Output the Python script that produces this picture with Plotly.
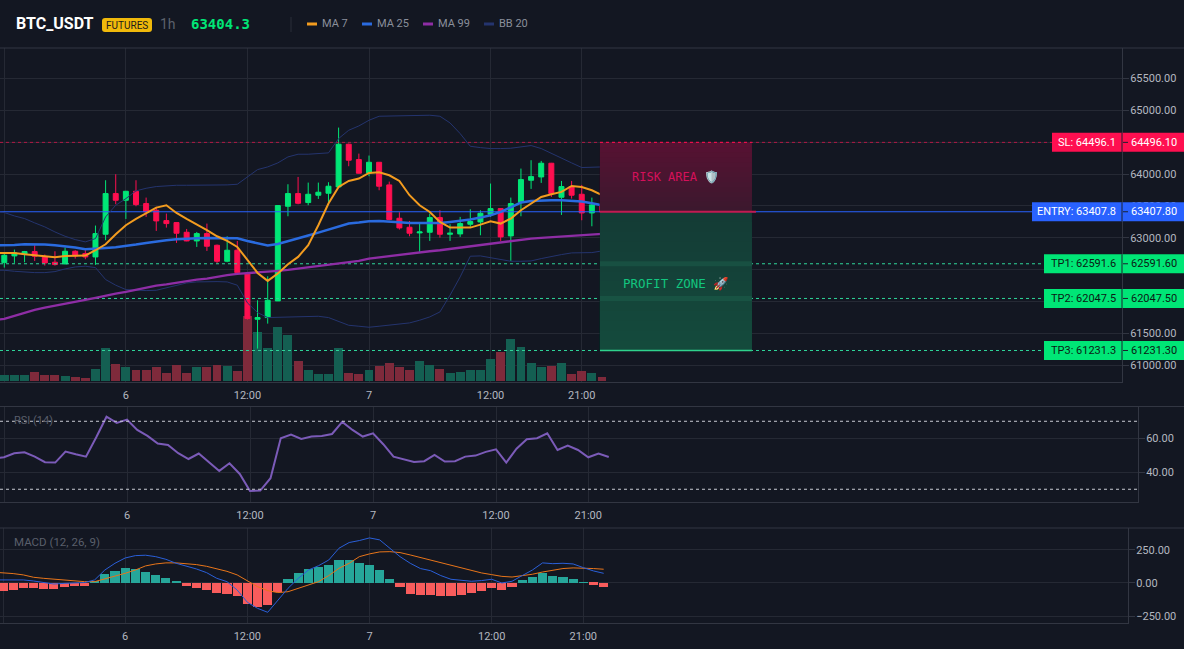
import plotly.graph_objects as go

W, H = 1184, 649

# --- hourly BTC_USDT candles ---------------------------------------------
opens = [62610,62715,62741,62783,62699,62616,62589,62788,62752,62699,63055,63693,63588,63729,63536,63431,63269,63238,63086,62950,
         63065,62882,62631,62804,62438,61721,61748,62009,63494,63693,63552,63667,63698,63797,64467,64226,64017,64184,63829,63306,
         63165,63076,63086,63316,63055,63060,63212,63248,63369,63457,63029,63552,63902,63954,64169,63635,63803,63682,63389,63515]
highs = [62752,62814,62793,62882,62736,62788,62846,62804,62804,63191,63902,63996,63735,63902,63630,63484,63379,63243,63138,63091,
         63222,62893,63023,62950,62453,62019,62396,63510,63839,63954,63865,63865,63871,64728,64477,64320,64289,64184,63881,63400,
         63264,63222,63379,63431,63212,63327,63447,63431,63850,63463,63630,64085,64216,64205,64174,63891,63891,63829,63630,63588]
lows = [62532,62605,62616,62636,62563,62563,62584,62673,62663,62574,62961,63525,63295,63494,63327,63107,63159,62919,62945,62856,
        62793,62595,62616,62453,61716,61261,61653,62009,63337,63525,63510,63609,63562,63787,64122,64006,63965,63745,63274,63128,
        63023,62778,62950,63002,62950,63013,63170,63039,63327,62950,62636,63337,63766,63860,63640,63358,63614,63274,63180,63327]
closes = [62725,62762,62783,62710,62605,62579,62788,62715,62699,63065,63693,63588,63729,63520,63405,63264,63222,63071,62950,63065,
          62867,62631,62804,62453,61732,61748,62019,63505,63693,63541,63682,63714,63808,64467,64216,64012,64184,63808,63285,63154,
          63071,63091,63316,63055,63071,63222,63254,63384,63457,63013,63536,63912,63959,64169,63693,63803,63667,63389,63515,63404.3]
volumes = [180,180,180,280,180,180,160,130,100,350,1000,510,430,330,330,410,230,480,250,430,
           430,480,450,300,1960,1480,1000,1620,1380,610,330,210,210,1000,250,210,330,450,530,430,
           330,610,480,360,240,280,330,330,660,880,1260,1010,550,410,450,530,210,300,230,130]

# Overlay lines carry one extra leading point so they run off the left edge.
ma7 = [62762,62762,62762,62741,62725,62710,62694,62715,62720,62720,62804,62898,63055,63196,63295,63379,63473,63510,63389,63295,63212,
       63118,63023,62950,62856,62657,62448,62323,62438,62584,62699,62882,63196,63536,63797,63891,63928,64017,64027,63980,63891,
       63667,63510,63405,63248,63159,63154,63159,63206,63259,63222,63301,63431,63536,63640,63682,63719,63813,63797,63745,63667]
ma25 = [62882,62882,62887,62898,62898,62893,62882,62867,62846,62820,62825,62840,62851,62867,62893,62919,62945,62961,62976,62987,62992,
        62997,62997,62997,62992,62950,62908,62877,62903,62945,62982,63034,63081,63128,63186,63222,63238,63259,63264,63259,63243,
        63233,63233,63233,63233,63248,63264,63285,63316,63353,63405,63473,63552,63578,63588,63588,63588,63578,63567,63541,63510]
ma99 = [61706,61727,61774,61826,61868,61904,61936,61972,61999,62025,62056,62093,62124,62150,62182,62223,62250,62270,62297,62318,62344,
        62359,62391,62412,62433,62443,62453,62464,62480,62495,62516,62532,62553,62574,62595,62616,62636,62673,62694,62715,62731,
        62752,62767,62788,62804,62825,62840,62861,62882,62903,62924,62945,62971,62987,62997,63008,63023,63034,63039,63050,63060]
bb_upper = [63405,63395,63342,63301,63233,63170,63091,63023,62971,62935,62987,63327,63510,63614,63735,63776,63803,63818,63823,63823,63823,
            63823,63823,63829,63839,63954,64069,64111,64174,64268,64310,64310,64315,64331,64556,64686,64754,64843,64906,64911,64916,
            64916,64922,64922,64906,64801,64634,64435,64414,64399,64399,64404,64425,64446,64399,64320,64242,64174,64101,64101,64111]
bb_lower = [62490,62490,62474,62459,62453,62453,62469,62511,62542,62553,62532,62344,62255,62187,62176,62171,62176,62218,62255,62291,62307,
            62312,62312,62307,62255,61978,61826,61748,61753,61758,61763,61768,61768,61748,61690,61627,61612,61596,61612,61632,61643,
            61664,61706,61758,61836,62098,62386,62710,62715,62689,62657,62631,62631,62636,62673,62710,62736,62762,62767,62767,62793]

# --- oscillators ----------------------------------------------------------
rsi = [48.0,48.8,51.2,51.8,49.2,45.9,45.7,52.2,50.6,49.2,60.6,72.7,69.0,71.0,64.9,61.4,56.9,56.1,51.2,47.8,51.0,
       45.9,40.8,45.3,39.0,29.0,29.2,36.5,60.0,62.2,59.6,61.0,61.4,62.5,69.6,64.9,61.0,62.9,56.5,49.2,47.6,
       46.1,46.5,50.2,46.3,46.5,49.2,49.8,52.0,53.5,45.7,53.9,59.4,60.0,62.9,53.1,55.7,53.1,48.8,51.0,49.0]
macd_hist = [-58,-53,-35,-35,-45,-45,-28,-20,-20,13,68,91,114,104,83,61,38,10,-20,-35,
             -53,-78,-83,-96,-159,-179,-167,-66,30,73,106,124,136,174,174,154,136,98,30,-28,
             -83,-88,-91,-98,-98,-91,-76,-61,-40,-53,-30,23,48,78,56,45,30,3,-15,-30]
macd_line = [23,23,23,23,15,3,-8,-3,0,3,23,98,149,189,207,210,199,179,149,129,106,
             78,35,10,-53,-146,-192,-222,-129,-40,35,98,131,174,263,306,321,341,326,263,199,
             149,109,93,56,28,18,13,18,28,0,13,56,98,152,146,149,144,116,91,73]
macd_signal = [82,78,71,61,43,35,28,20,15,10,10,30,53,73,98,129,144,152,152,146,139,
               126,106,88,61,15,-28,-58,-73,-66,-40,-15,10,56,111,149,199,220,235,237,230,
               212,192,174,154,131,111,91,76,63,50,45,56,66,83,98,109,114,114,109,104]

# --- axis labels and trade levels ------------------------------------------
tick_positions = [0, 12, 24, 36, 48, 57]
tick_labels = ["12:00", "6", "12:00", "7", "12:00", "21:00"]
price_ticks = [61000, 61500, 62000, 62500, 63000, 63500, 64000, 64500, 65000, 65500]
# 62000, 62500 and 64500 fall under the level tags, so they keep a gridline but no text.
price_tick_labels = ["61000.00", "61500.00", "", "", "63000.00", "63500.00", "64000.00", "", "65000.00", "65500.00"]
rsi_bands = [70, 30]
sl_level = 64496.1
entry_level = 63407.8
tp_levels = [62591.6, 62047.5, 61231.3]

BG = "#131722"
GRID = "#252934"
EDGE = "#323642"
GREEN = "#00e676"
RED = "#ff0f50"
BLUE = "#2962ff"
TP_LINE = "#2fd69a"
BAND = "#24346e"
AXIS_FONT = dict(family="Roboto, sans-serif", size=11, color="#b4b7c0")

X_LEFT = -0.424
X_RIGHT = 110.33


def px_x(x):
    return x / W


def px_y(y):
    return 1 - y / H


def main_index(px):
    """Bar index under a horizontal pixel of the price pane."""
    return X_LEFT + px / 1122 * (X_RIGHT - X_LEFT)


candle_x = list(range(len(closes)))
line_x = list(range(-1, len(closes)))
vol_colors = ["#145f52" if c >= o else "#7e2a3b" for o, c in zip(opens, closes)]
hist_colors = ["#26a69a" if v >= 0 else "#f85c5c" for v in macd_hist]

traces = [
    go.Bar(x=candle_x, y=volumes, width=0.88, marker=dict(color=vol_colors, line_width=0),
           xaxis="x", yaxis="y"),
]

# Trade level lines sit behind the candles.
for level, end_px, color, dash in [
    (sl_level, 1052, "rgba(255,15,80,0.65)", "dot"),
    (entry_level, 1032, BLUE, "solid"),
    (tp_levels[0], 1044, TP_LINE, "dot"),
    (tp_levels[1], 1044, TP_LINE, "dot"),
    (tp_levels[2], 1044, TP_LINE, "dot"),
]:
    traces.append(go.Scatter(x=[X_LEFT, main_index(end_px)], y=[level, level], mode="lines",
                             line=dict(color=color, width=1, dash=dash), xaxis="x", yaxis="y2"))

for values in (bb_upper, bb_lower):
    traces.append(go.Scatter(x=line_x, y=values, mode="lines", line=dict(color=BAND, width=1),
                             xaxis="x", yaxis="y2"))
traces.append(go.Scatter(x=line_x, y=ma99, mode="lines", line=dict(color="#8e2da5", width=2.3),
                         xaxis="x", yaxis="y2"))
traces.append(go.Candlestick(
    x=candle_x, open=opens, high=highs, low=lows, close=closes, whiskerwidth=0,
    increasing=dict(line=dict(color=GREEN, width=1), fillcolor=GREEN),
    decreasing=dict(line=dict(color=RED, width=1), fillcolor=RED),
    xaxis="x", yaxis="y2",
))
for values, color, width in [(ma25, "#2a6bdf", 2.5), (ma7, "#f39c1f", 2)]:
    traces.append(go.Scatter(x=line_x, y=values, mode="lines", line=dict(color=color, width=width),
                             xaxis="x", yaxis="y2"))

traces.append(go.Scatter(x=line_x, y=rsi, mode="lines", line=dict(color="#7b5bb8", width=2),
                         xaxis="x2", yaxis="y3"))

traces.append(go.Bar(x=candle_x, y=macd_hist, width=0.9, marker=dict(color=hist_colors, line_width=0),
                     xaxis="x3", yaxis="y4"))
traces.append(go.Scatter(x=line_x, y=macd_signal, mode="lines", line=dict(color="#e8751a", width=1),
                         xaxis="x3", yaxis="y4"))
traces.append(go.Scatter(x=line_x, y=macd_line, mode="lines", line=dict(color="#2a5fd8", width=1),
                         xaxis="x3", yaxis="y4"))


def x_axis(right_px, x_range, anchor, standoff):
    return dict(
        domain=[0, px_x(right_px)], range=x_range, anchor=anchor,
        tickmode="array", tickvals=tick_positions, ticktext=tick_labels,
        showgrid=True, gridcolor=GRID, gridwidth=1, zeroline=False,
        showline=True, linecolor=EDGE, linewidth=1, ticks="", tickfont=AXIS_FONT,
        ticklabelstandoff=standoff, rangeslider=dict(visible=False),
    )


def y_axis(top, bottom, y_range, anchor, tickvals, overlay=None, ticktext=None):
    axis = dict(
        domain=[px_y(bottom), px_y(top)], range=y_range, anchor=anchor, side="right",
        tickmode="array", tickvals=tickvals, tickformat=".2f",
        showgrid=True, gridcolor=GRID, gridwidth=1, zeroline=False,
        showline=True, linecolor=EDGE, linewidth=1, ticks="outside", ticklen=6, tickcolor=EDGE,
        tickfont=AXIS_FONT, ticklabelstandoff=-1,
    )
    if overlay:
        axis["overlaying"] = overlay
    if ticktext:
        axis["ticktext"] = ticktext
    return axis


layout = dict(
    width=W, height=H, autosize=False, margin=dict(l=0, r=0, t=0, b=0, pad=0),
    paper_bgcolor=BG, plot_bgcolor=BG, showlegend=False, bargap=0, barmode="overlay", boxgap=0.3,
    hovermode=False,
    xaxis=x_axis(1122, [X_LEFT, X_RIGHT], "y", 3),
    yaxis=dict(domain=[px_y(382), px_y(48)], range=[-30, 9990], anchor="x", visible=False),
    yaxis2=y_axis(48, 382, [60737, 65976.5], "x", price_ticks, overlay="y", ticktext=price_tick_labels),
    xaxis2=x_axis(1138, [-0.39, 110.63], "y3", 3),
    yaxis3=y_axis(407, 502, [22.5, 78.4], "x2", [40, 60]),
    xaxis3=x_axis(1128, [-0.295, 110.5], "y4", 3),
    yaxis4=y_axis(528, 623, [-303, 416], "x3", [-250, 0, 250]),
)

shapes = []
annotations = []


def hline_px(y, x0=0, x1=W, color=EDGE):
    shapes.append(dict(type="line", xref="paper", yref="paper", x0=px_x(x0), x1=px_x(x1),
                       y0=px_y(y), y1=px_y(y), line=dict(color=color, width=1)))


def text_px(x, y, text, size=11, color="#b4b7c0", family="Roboto, sans-serif", anchor="left", bold=False):
    annotations.append(dict(
        xref="paper", yref="paper", x=px_x(x), y=px_y(y), text=f"<b>{text}</b>" if bold else text,
        showarrow=False, xanchor=anchor, yanchor="middle", borderpad=0,
        font=dict(size=size, color=color, family=family),
    ))


# pane separators
for y in (48, 406.5, 528):
    hline_px(y)

# RSI guide bands
for band in rsi_bands:
    shapes.append(dict(type="line", xref="paper", yref="y3", x0=0, x1=px_x(1138), y0=band, y1=band,
                       line=dict(color="#c9ccd4", width=1, dash="dot")))

ZONE_START = 58.8
ZONE_END = 73.8


def gradient_zone(top, bottom, top_rgb, bottom_rgb, steps=14):
    """Paint a vertical colour ramp between two price levels, each step overlapping the next."""
    span = (bottom - top) / steps
    for n in range(steps):
        t = n / (steps - 1)
        rgb = [round(a + (b - a) * t) for a, b in zip(top_rgb, bottom_rgb)]
        shapes.append(dict(type="rect", xref="x", yref="y2", x0=ZONE_START, x1=ZONE_END,
                           y0=top + span * n, y1=bottom, line=dict(width=0),
                           fillcolor=f"rgb({rgb[0]},{rgb[1]},{rgb[2]})"))


gradient_zone(sl_level, entry_level, (86, 18, 50), (60, 24, 46))
gradient_zone(entry_level, tp_levels[2], (20, 60, 54), (20, 74, 60))
for level in tp_levels[:2]:
    shapes.append(dict(type="line", xref="x", yref="y2", x0=ZONE_START, x1=ZONE_END, y0=level, y1=level,
                       line=dict(color="rgba(60,190,140,0.12)", width=5)))
shapes.append(dict(type="line", xref="x", yref="y2", x0=ZONE_START, x1=ZONE_END, y0=sl_level, y1=sl_level,
                   line=dict(color=RED, width=1, dash="dot")))
shapes.append(dict(type="line", xref="x", yref="y2", x0=ZONE_START, x1=74.2, y0=entry_level, y1=entry_level,
                   line=dict(color="#c21a52", width=2)))
shapes.append(dict(type="line", xref="x", yref="y2", x0=ZONE_START, x1=ZONE_END, y0=tp_levels[2], y1=tp_levels[2],
                   line=dict(color="#2fd28c", width=1.5)))


def level_tag(level, left_px, fill, text, text_color):
    """Coloured label boxes on the price scale for one trade level."""
    font = dict(size=11, color=text_color, family=AXIS_FONT["family"])
    shapes.append(dict(type="rect", xref="paper", yref="y2", ysizemode="pixel", yanchor=level,
                       y0=-9.5, y1=9.5, x0=px_x(left_px), x1=1, line=dict(width=0), fillcolor=fill))
    shapes.append(dict(type="line", xref="paper", yref="y2", ysizemode="pixel", yanchor=level,
                       x0=px_x(1122), x1=px_x(1122), y0=-9.5, y1=9.5, line=dict(color="#1a2030", width=1)))
    shapes.append(dict(type="line", xref="paper", yref="y2", x0=px_x(1123), x1=px_x(1128), y0=level, y1=level,
                       line=dict(color="#1a2030", width=1)))
    annotations.append(dict(xref="paper", yref="y2", x=px_x(1118), y=level, text=text, showarrow=False,
                            xanchor="right", yanchor="middle", font=font))
    annotations.append(dict(xref="paper", yref="y2", x=px_x(1129), y=level, text=f"{level:.2f}", showarrow=False,
                            xanchor="left", yanchor="middle", font=font))


level_tag(sl_level, 1052, RED, f"SL: {sl_level}", "#ffffff")
level_tag(entry_level, 1032, BLUE, f"ENTRY: {entry_level}", "#ffffff")
for n, level in enumerate(tp_levels, start=1):
    level_tag(level, 1044, GREEN, f"TP{n}: {level}", "#0b1a14")

MONO = "'DejaVu Sans Mono', monospace"
annotations.append(dict(xref="x", yref="y2", x=66.3, y=63949, text="RISK AREA 🛡️", showarrow=False,
                        font=dict(size=12, color="#d5105a", family=MONO)))
annotations.append(dict(xref="x", yref="y2", x=66.3, y=62286, text="PROFIT ZONE 🚀", showarrow=False,
                        font=dict(size=12.5, color="#12c67f", family=MONO)))

# header strip
text_px(15, 24, "BTC_USDT", size=16, color="#ffffff", bold=True)
bx0, bx1, by0, by1 = px_x(102), px_x(152), px_y(32), px_y(18)
rx, ry = 3 / W, 3 / H
shapes.append(dict(
    type="path", xref="paper", yref="paper", fillcolor="#f0b90b", line=dict(width=0),
    path=(f"M {bx0 + rx} {by1} L {bx1 - rx} {by1} Q {bx1} {by1} {bx1} {by1 - ry} "
          f"L {bx1} {by0 + ry} Q {bx1} {by0} {bx1 - rx} {by0} L {bx0 + rx} {by0} "
          f"Q {bx0} {by0} {bx0} {by0 + ry} L {bx0} {by1 - ry} Q {bx0} {by1} {bx0 + rx} {by1} Z"),
))
text_px(127, 25, "FUTURES", size=10, color="#1a1a1a", anchor="center")
text_px(159, 24, "1h", size=14, color="#5c616c")
text_px(190, 24, "63404.3", size=14, color=GREEN, family=MONO, bold=True)
shapes.append(dict(type="line", xref="paper", yref="paper", x0=px_x(291), x1=px_x(291), y0=px_y(17), y1=px_y(32),
                   line=dict(color="#2a2e39", width=1)))
for x0, color, label in [(307, "#f39c1f", "MA 7"), (362, "#2a6bdf", "MA 25"), (423, "#8e2da5", "MA 99"), (484, "#24346e", "BB 20")]:
    shapes.append(dict(type="line", xref="paper", yref="paper", x0=px_x(x0), x1=px_x(x0 + 10), y0=px_y(24), y1=px_y(24),
                       line=dict(color=color, width=3)))
    text_px(x0 + 14, 24, label, size=11, color="#8a8f9b")

text_px(13, 421, "RSI (14)", size=11, color="#5a5f6b")
text_px(13, 542, "MACD (12, 26, 9)", size=11.5, color="#5a5f6b")

layout["shapes"] = shapes
layout["annotations"] = annotations

fig = go.Figure(data=traces, layout=layout)
fig.write_html("out.html", config=dict(displayModeBar=False))
